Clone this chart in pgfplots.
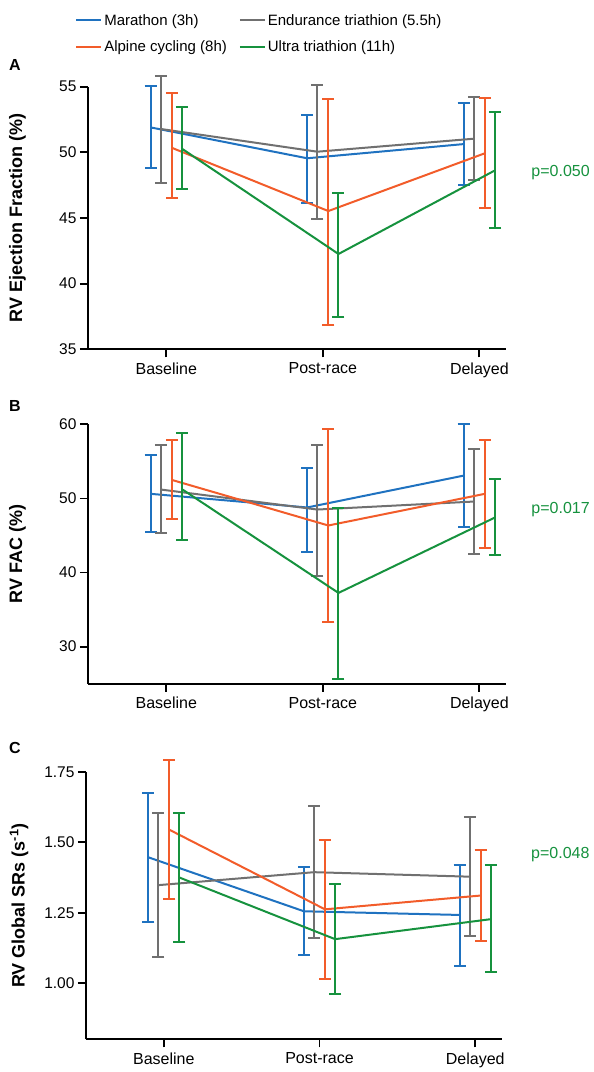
\documentclass[border=0pt]{standalone}
\usepackage{fontspec}
\setmainfont{Liberation Sans}
\usepackage{pgfplots}
\pgfplotsset{compat=1.18}

\definecolor{cblue}{RGB}{31,114,192}
\definecolor{corange}{RGB}{242,92,42}
\definecolor{cgray}{RGB}{112,112,112}
\definecolor{cgreen}{RGB}{22,146,62}

\tikzset{pval/.style={anchor=west, text=cgreen, font=\fontsize{16}{18}\selectfont}}

\pgfplotsset{
  rvpanel/.style={
    scale only axis, clip=false,
    axis x line=bottom, axis y line=left,
    axis line style={line width=1.8pt,-},
    every tick/.style={black, line width=1.8pt},
    tick align=outside, major tick length=8pt,
    xmin=-0.5, xmax=2.17,
    xtick={0,1,2}, xticklabels={Baseline,Post-race,Delayed},
    x tick label style={font=\fontsize{16}{18}\selectfont, yshift=-2pt},
    y tick label style={font=\fontsize{15.5}{18}\selectfont},
    /pgf/number format/assume math mode=true,
    ylabel style={font=\fontsize{18}{20}\selectfont\bfseries, anchor=center},
    every axis plot/.append style={line width=2pt, mark=none},
  },
  eb/.style={error bars/.cd, y dir=both, y explicit,
    error bar style={line width=2pt},
    error mark options={rotate=90, mark size=6pt, line width=2pt}},
}

\begin{document}
\begin{tikzpicture}
\path[use as bounding box] (0pt,0pt) rectangle (594pt,-1072pt);

% panel A
\begin{axis}[rvpanel, at={(88pt,-349.3pt)}, anchor=south west,
  width=418pt, height=262.6pt, ymin=35, ymax=55, ytick={35,40,...,55},
  ylabel={RV Ejection Fraction (\%)},
  ylabel style={at={(axis description cs:-0.169,0.5)}},
  legend columns=2, legend cell align=left,
  legend style={draw=none, fill=none, at={(axis description cs:-0.038,1.292)},
    anchor=north west, font=\fontsize{15}{17}\selectfont,
    /tikz/every even column/.append style={column sep=10pt}, row sep=10pt},
  legend image code/.code={\draw[#1, line width=2pt] (0pt,0pt) -- (25pt,0pt);}]
\addplot[cblue, eb] coordinates {
  (-0.1,51.9) += (0,3.15) -= (0,3.1)
  (0.9,49.55) += (0,3.3) -= (0,3.38)
  (1.9,50.63) += (0,3.13) -= (0,3.13)};
\addplot[cgray, eb] coordinates {
  (-0.035,51.78) += (0,4.0) -= (0,4.08)
  (0.965,50.05) += (0,5.08) -= (0,5.13)
  (1.965,51.04) += (0,3.16) -= (0,3.14)};
\addplot[corange, eb] coordinates {
  (0.035,50.35) += (0,4.15) -= (0,3.85)
  (1.035,45.53) += (0,8.57) -= (0,8.68)
  (2.035,49.93) += (0,4.21) -= (0,4.19)};
\addplot[cgreen, eb] coordinates {
  (0.1,50.28) += (0,3.2) -= (0,3.08)
  (1.1,42.26) += (0,4.67) -= (0,4.8)
  (2.1,48.63) += (0,4.44) -= (0,4.39)};
\legend{Marathon (3h),Endurance triathion (5.5h),Alpine cycling (8h),Ultra triathion (11h)}
\node[pval] at (axis cs:2.31,48.43) {p=0.050};
\end{axis}

% panel B
\begin{axis}[rvpanel, at={(88pt,-683.7pt)}, anchor=south west,
  width=418pt, height=259.4pt, ymin=25, ymax=60, ytick={30,40,...,60},
  ylabel={RV FAC (\%)},
  ylabel style={at={(axis description cs:-0.169,0.5)}}]
\addplot[cblue, eb] coordinates {
  (-0.1,50.62) += (0,5.25) -= (0,5.16)
  (0.9,48.78) += (0,5.34) -= (0,6.01)
  (1.9,53.08) += (0,7.0) -= (0,6.94)};
\addplot[cgray, eb] coordinates {
  (-0.035,51.2) += (0,6.0) -= (0,5.92)
  (0.965,48.5) += (0,8.7) -= (0,8.9)
  (1.965,49.58) += (0,7.12) -= (0,7.08)};
\addplot[corange, eb] coordinates {
  (0.035,52.5) += (0,5.4) -= (0,5.25)
  (1.035,46.35) += (0,12.95) -= (0,13.0)
  (2.035,50.62) += (0,7.28) -= (0,7.32)};
\addplot[cgreen, eb] coordinates {
  (0.1,51.25) += (0,7.55) -= (0,6.91)
  (1.1,37.25) += (0,11.45) -= (0,11.57)
  (2.1,47.43) += (0,5.17) -= (0,5.06)};
\node[pval] at (axis cs:2.31,48.5) {p=0.017};
\end{axis}

% panel C
\begin{axis}[rvpanel, at={(86pt,-1039.3pt)}, anchor=south west,
  width=415.7pt, height=267.3pt, ymin=0.8, ymax=1.75, ytick={1.00,1.25,1.50,1.75},
  yticklabel style={/pgf/number format/.cd, fixed, fixed zerofill, precision=2},
  ylabel={RV Global SRs (s\textsuperscript{-1})},
  ylabel style={at={(axis description cs:-0.161,0.5)}}]
\addplot[cblue, eb] coordinates {
  (-0.1,1.447) += (0,0.23) -= (0,0.229)
  (0.9,1.255) += (0,0.158) -= (0,0.156)
  (1.9,1.242) += (0,0.176) -= (0,0.181)};
\addplot[cgray, eb] coordinates {
  (-0.035,1.348) += (0,0.256) -= (0,0.255)
  (0.965,1.394) += (0,0.235) -= (0,0.234)
  (1.965,1.378) += (0,0.212) -= (0,0.211)};
\addplot[corange, eb] coordinates {
  (0.035,1.545) += (0,0.247) -= (0,0.248)
  (1.035,1.262) += (0,0.247) -= (0,0.248)
  (2.035,1.311) += (0,0.163) -= (0,0.162)};
\addplot[cgreen, eb] coordinates {
  (0.1,1.375) += (0,0.231) -= (0,0.23)
  (1.1,1.156) += (0,0.195) -= (0,0.196)
  (2.1,1.227) += (0,0.193) -= (0,0.188)};
\node[pval] at (axis cs:2.337,1.456) {p=0.048};
\end{axis}

\node[font=\fontsize{16}{18}\selectfont\bfseries] at (15pt,-65pt) {A};
\node[font=\fontsize{16}{18}\selectfont\bfseries] at (15pt,-406pt) {B};
\node[font=\fontsize{16}{18}\selectfont\bfseries] at (15pt,-748pt) {C};
\end{tikzpicture}
\end{document}
